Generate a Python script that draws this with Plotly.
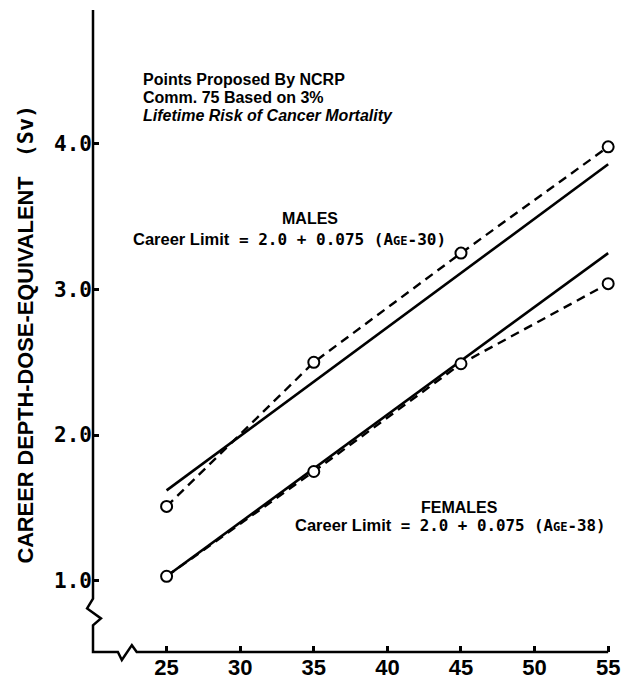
import plotly.graph_objects as go

# ---- data ----
ages = [25, 35, 45, 55]
males_points = [1.51, 2.50, 3.25, 3.98]
females_points = [1.03, 1.75, 2.49, 3.04]
limit_ages = [25, 55]
males_limit = [1.62, 3.86]
females_limit = [1.03, 3.25]
x_ticks = [25, 30, 35, 40, 45, 50, 55]
y_ticks = [1.0, 2.0, 3.0, 4.0]
y_tick_labels = ["1.0", "2.0", "3.0", "4.0"]

X0, X1 = 20, 55.6
Y0, Y1 = 0.51, 4.92

def px(x):
    return (x - X0) / (X1 - X0)

def py(y):
    return (y - Y0) / (Y1 - Y0)

fig = go.Figure()

for yy in (males_limit, females_limit):
    fig.add_trace(go.Scatter(x=limit_ages, y=yy, mode="lines",
                             line=dict(color="black", width=2.6),
                             showlegend=False, hoverinfo="skip"))

for yy in (males_points, females_points):
    fig.add_trace(go.Scatter(x=ages, y=yy, mode="lines+markers",
                             line=dict(color="black", width=2.4, dash="9px,6px"),
                             marker=dict(symbol="circle", size=11, color="white",
                                         line=dict(color="black", width=2)),
                             showlegend=False, hoverinfo="skip"))

# axis line with breaks (paper coords)
axis_pts = [(20, Y1), (20, 0.877), (19.6, 0.809), (20.54, 0.741), (20, 0.693),
            (20, Y0), (21.69, Y0), (21.96, 0.455), (22.64, 0.557), (22.97, Y0),
            (55, Y0)]
path = "M " + " L ".join(f"{px(a):.5f},{py(b):.5f}" for a, b in axis_pts)
fig.add_shape(type="path", path=path, xref="paper", yref="paper",
              line=dict(color="black", width=2.5), layer="above")

sans = "Liberation Sans, Arial, sans-serif"
mono = "DejaVu Sans Mono, monospace"

def ann(text, x, y, size, family=sans, xanchor="left", **kw):
    fig.add_annotation(text=text, x=x, y=y, xref="x", yref="y", showarrow=False,
                       xanchor=xanchor, yanchor="middle",
                       font=dict(family=family, size=size, color="black", weight="bold"),
                       **kw)

ann("Points Proposed By NCRP", 23.28, 4.44, 16)
ann("Comm. 75 Based on 3%", 23.28, 4.32, 16)
ann("<i>Lifetime Risk of Cancer Mortality</i>", 23.28, 4.197, 16)

lab = '<span style="font-family:Liberation Sans, Arial;font-size:16.5px">Career Limit</span>'
ann("MALES", 34.76, 3.49, 16, xanchor="center")
ann(lab + ' = 2.0 + 0.075 (A<span style="font-size:12px">GE</span>-30)',
    22.55, 3.345, 16, family=mono)
ann("FEMALES", 44.9, 1.50, 16, xanchor="center")
ann(lab + ' = 2.0 + 0.075 (A<span style="font-size:12px">GE</span>-38)',
    33.6, 1.382, 15.8, family=mono)

fig.add_annotation(text='CAREER DEPTH-DOSE-EQUIVALENT <span style="font-family:DejaVu Sans Mono;font-weight:bold">&nbsp;(Sv)</span>',
                   xref="paper", yref="paper", x=-0.129, y=0.495, textangle=-90,
                   showarrow=False, xanchor="center", yanchor="middle",
                   font=dict(family=sans, size=21.8, color="black", weight="bold"))

fig.update_layout(
    width=622, height=682,
    margin=dict(l=93, r=2, t=10, b=25),
    paper_bgcolor="white", plot_bgcolor="white",
    xaxis=dict(range=[X0, X1], tickvals=x_ticks, ticks="inside", ticklen=6,
               tickwidth=2.5, tickcolor="black", showgrid=False, zeroline=False,
               showline=False, ticklabeloverflow="allow",
               tickfont=dict(family=sans, size=22, color="black", weight="bold")),
    yaxis=dict(range=[Y0, Y1], tickvals=y_ticks, ticktext=y_tick_labels,
               ticks="inside", ticklen=6, tickwidth=2.5, tickcolor="black",
               showgrid=False, zeroline=False, showline=False,
               tickfont=dict(family=mono, size=21, color="black", weight="bold")),
)

fig.write_html("out.html")
